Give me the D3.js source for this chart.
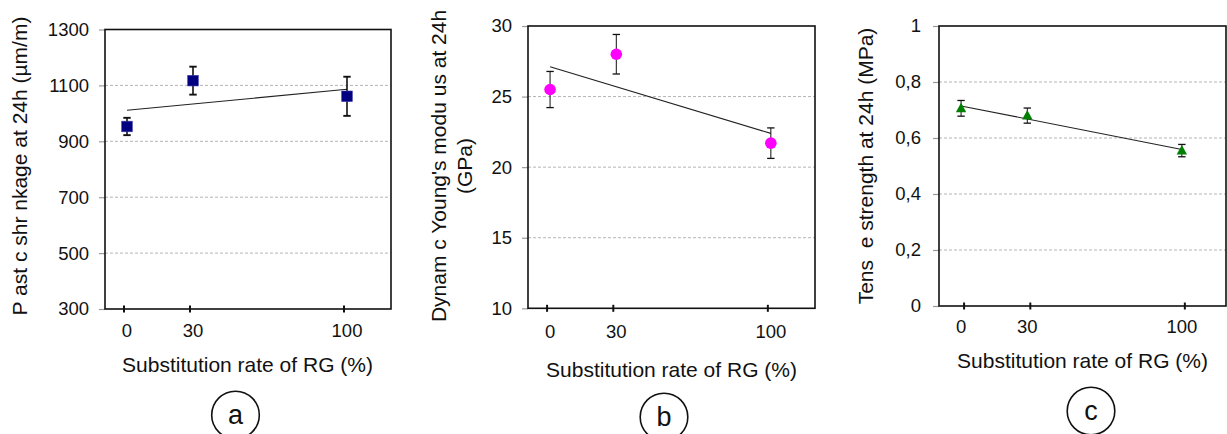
<!DOCTYPE html>
<html>
<head>
<meta charset="utf-8">
<script src="https://cdn.jsdelivr.net/npm/d3@7"></script>
<style>
  html, body { margin: 0; padding: 0; background: #fff; }
  svg { display: block; font-family: "Liberation Sans", Arial, sans-serif; }
  .ytitle { white-space: pre; }
</style>
</head>
<body>
<svg id="chart" width="1227" height="434"></svg>
<script>
// Substitution rates of recycled glass (RG), shared by the three panels
const rgRates = [0, 30, 100];
const xTickLabels = ["0", "30", "100"];

// (a) plastic shrinkage at 24h, µm/m
const shrinkage = [953, 1117, 1061];
const shrinkageErr = [31, 50, 70];
const shrinkageTicks = [300, 500, 700, 900, 1100, 1300];

// (b) dynamic Young's modulus at 24h, GPa
const youngModulus = [25.5, 28.0, 21.7];
const youngErr = [1.28, 1.4, 1.08];
const youngTicks = [10, 15, 20, 25, 30];

// (c) tensile strength at 24h, MPa
const tensile = [0.706, 0.680, 0.555];
const tensileErr = [0.028, 0.027, 0.022];
const tensileTicks = [0, 0.2, 0.4, 0.6, 0.8, 1];

const panels = [
  {
    values: shrinkage, errors: shrinkageErr, ticks: shrinkageTicks,
    fmt: d => String(d), marker: "square", color: "#000080",
    box: { x0: 105, x1: 391, y0: 29.5, y1: 309 },
    tickShift: -3, yLabelGap: 16, xLabelBase: 337, errWidth: 1.6,
    yTitle: ["P ast c shr nkage at 24h (µm/m)"], yTitleX: [27], yTitleY: 166,
    xTitle: { x: 247.5, y: 372 },
    badge: { x: 235.5, y: 415, letter: "a" }
  },
  {
    values: youngModulus, errors: youngErr, ticks: youngTicks,
    fmt: d => String(d), marker: "circle", color: "#ff00ff",
    box: { x0: 528, x1: 815, y0: 26, y1: 308.3 },
    tickShift: -3, yLabelGap: 16, xLabelBase: 338, errWidth: 1,
    yTitle: ["Dynam c Young's modu us at 24h", "(GPa)"], yTitleX: [446, 472], yTitleY: 166,
    xTitle: { x: 671.5, y: 377 },
    badge: { x: 664, y: 417, letter: "b" }
  },
  {
    values: tensile, errors: tensileErr, ticks: tensileTicks,
    fmt: d => d === 0 || d === 1 ? String(d) : d3.format(".1f")(d).replace(".", ","),
    marker: "triangle", color: "#008000",
    box: { x0: 939, x1: 1226, y0: 26, y1: 306 },
    tickShift: 3, yLabelGap: 18, xLabelBase: 333, errWidth: 1,
    yTitle: ["Tens  e strength at 24h (MPa)"], yTitleX: [873], yTitleY: 166,
    xTitle: { x: 1082.5, y: 368 },
    badge: { x: 1091, y: 411, letter: "c" }
  }
];

const svg = d3.select("#chart");

// least-squares line through the three points
function linearFit(xs, ys) {
  const mx = d3.mean(xs), my = d3.mean(ys);
  const sxy = d3.sum(xs, (x, i) => (x - mx) * (ys[i] - my));
  const sxx = d3.sum(xs, x => (x - mx) * (x - mx));
  const slope = sxy / sxx;
  return x => my + slope * (x - mx);
}

panels.forEach(p => {
  const g = svg.append("g");
  const b = p.box;
  const x = d3.scaleLinear().domain([-10, 120]).range([b.x0, b.x1]);
  const y = d3.scaleLinear().domain(d3.extent(p.ticks)).range([b.y1, b.y0]);

  // dashed horizontal gridlines (inner ticks only)
  g.selectAll("line.grid")
    .data(p.ticks.slice(1, -1))
    .join("line")
    .attr("x1", b.x0).attr("x2", b.x1)
    .attr("y1", d => y(d)).attr("y2", d => y(d))
    .attr("stroke", "#b4b4b4").attr("stroke-width", 1)
    .attr("stroke-dasharray", "3,2");

  // y axis: grey outer ticks and labels
  const yAxis = d3.axisLeft(y).tickValues(p.ticks).tickSize(6)
    .tickPadding(p.yLabelGap - 6).tickFormat(p.fmt);
  const ya = g.append("g").attr("transform", `translate(${b.x0},0)`).call(yAxis);
  ya.select(".domain").remove();
  ya.selectAll(".tick line").attr("stroke", "#9a9a9a").attr("stroke-width", 1.2);
  ya.selectAll(".tick text")
    .attr("font-size", 18.5).attr("fill", "#111")
    .attr("font-family", "'Liberation Sans', Arial, sans-serif");

  // frame around the plot area
  g.append("rect")
    .attr("x", b.x0).attr("y", b.y0)
    .attr("width", b.x1 - b.x0).attr("height", b.y1 - b.y0)
    .attr("fill", "none").attr("stroke", "#111").attr("stroke-width", 1.6);

  // x ticks crossing the bottom edge
  g.selectAll("line.xtick")
    .data(rgRates)
    .join("line")
    .attr("x1", d => x(d) + p.tickShift).attr("x2", d => x(d) + p.tickShift)
    .attr("y1", b.y1 - 3.5).attr("y2", b.y1 + 3.5)
    .attr("stroke", "#111").attr("stroke-width", 2);

  g.selectAll("text.xlab")
    .data(rgRates)
    .join("text")
    .attr("x", (d, i) => x(d))
    .attr("y", p.xLabelBase)
    .attr("text-anchor", "middle")
    .attr("font-size", 18.5).attr("fill", "#111")
    .text((d, i) => xTickLabels[i]);

  // linear trend line
  const fit = linearFit(rgRates, p.values);
  const ends = d3.extent(rgRates);
  g.append("line")
    .attr("x1", x(ends[0])).attr("y1", y(fit(ends[0])))
    .attr("x2", x(ends[1])).attr("y2", y(fit(ends[1])))
    .attr("stroke", "#222").attr("stroke-width", 1.1);

  // error bars
  const eb = g.selectAll("g.err")
    .data(rgRates.map((r, i) => ({ r, v: p.values[i], e: p.errors[i] })))
    .join("g");
  eb.append("line")
    .attr("x1", d => x(d.r)).attr("x2", d => x(d.r))
    .attr("y1", d => y(d.v + d.e)).attr("y2", d => y(d.v - d.e))
    .attr("stroke", "#111").attr("stroke-width", p.errWidth);
  [1, -1].forEach(s => {
    eb.append("line")
      .attr("x1", d => x(d.r) - 3.7).attr("x2", d => x(d.r) + 3.7)
      .attr("y1", d => y(d.v + s * d.e)).attr("y2", d => y(d.v + s * d.e))
      .attr("stroke", "#111").attr("stroke-width", p.errWidth + 0.3);
  });

  // markers
  const pts = rgRates.map((r, i) => [x(r), y(p.values[i])]);
  if (p.marker === "square") {
    g.selectAll("rect.m").data(pts).join("rect")
      .attr("x", d => d[0] - 5.3).attr("y", d => d[1] - 5.3)
      .attr("width", 10.6).attr("height", 10.6)
      .attr("fill", p.color).attr("stroke", "#3a3aa8").attr("stroke-width", 0.6);
  } else if (p.marker === "circle") {
    g.selectAll("circle.m").data(pts).join("circle")
      .attr("cx", d => d[0]).attr("cy", d => d[1]).attr("r", 5.8)
      .attr("fill", p.color);
  } else {
    g.selectAll("path.m").data(pts).join("path")
      .attr("d", d => `M${d[0]},${d[1] - 5.5}L${d[0] + 5.2},${d[1] + 4}L${d[0] - 5.2},${d[1] + 4}Z`)
      .attr("fill", p.color);
  }

  // axis titles
  g.append("text")
    .attr("x", p.xTitle.x).attr("y", p.xTitle.y)
    .attr("text-anchor", "middle")
    .attr("font-size", 21).attr("fill", "#111")
    .text("Substitution rate of RG (%)");

  p.yTitle.forEach((t, i) => {
    g.append("text")
      .attr("class", "ytitle")
      .attr("transform", `translate(${p.yTitleX[i]},${p.yTitleY}) rotate(-90)`)
      .attr("text-anchor", "middle")
      .attr("font-size", 21).attr("fill", "#111")
      .text(t);
  });

  // circled panel letter
  g.append("circle")
    .attr("cx", p.badge.x).attr("cy", p.badge.y).attr("r", 23.8)
    .attr("fill", "none").attr("stroke", "#111").attr("stroke-width", 1.6);
  g.append("text")
    .attr("x", p.badge.x).attr("y", p.badge.y + 9)
    .attr("text-anchor", "middle")
    .attr("font-size", 27).attr("fill", "#111")
    .text(p.badge.letter);
});
</script>
</body>
</html>
